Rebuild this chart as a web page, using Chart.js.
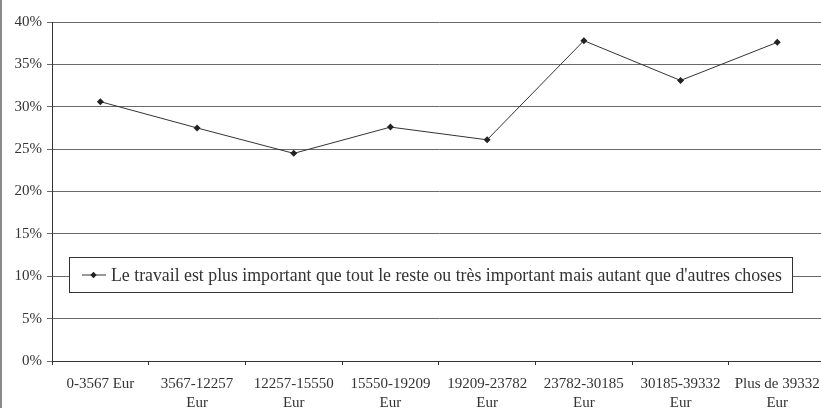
<!DOCTYPE html>
<html>
<head>
<meta charset="utf-8">
<script src="https://cdn.jsdelivr.net/npm/chart.js@4/dist/chart.umd.min.js"></script>
<style>
  html, body { margin: 0; padding: 0; background: #fff; overflow: hidden; }
  #wrap { position: relative; width: 821px; height: 408px; overflow: hidden; }
  #frame { position: absolute; left: 0; top: 0; width: 2px; height: 408px; background: #8a8a8a; z-index: 2; }
  #c { position: absolute; left: 0; top: 0; }
</style>
</head>
<body>
<div id="wrap">
  <canvas id="c" width="830" height="408"></canvas>
  <div id="frame"></div>
</div>
<script>
const categories = [
  "0-3567 Eur",
  ["3567-12257", "Eur"],
  ["12257-15550", "Eur"],
  ["15550-19209", "Eur"],
  ["19209-23782", "Eur"],
  ["23782-30185", "Eur"],
  ["30185-39332", "Eur"],
  ["Plus de 39332", "Eur"]
];
const seriesLabel = "Le travail est plus important que tout le reste ou très important mais autant que d'autres choses";
const seriesValues = [30.6, 27.5, 24.5, 27.6, 26.1, 37.8, 33.1, 37.6];
const yTicks = [0, 5, 10, 15, 20, 25, 30, 35, 40];

const FONT = "'Liberation Serif', 'Times New Roman', serif";
const TXT = "#333";

const legendPlugin = {
  id: 'insideLegend',
  afterDraw(chart) {
    const ctx = chart.ctx;
    const x = 69.5, y = 257.5, w = 723, h = 35;
    ctx.save();
    ctx.fillStyle = '#fff';
    ctx.fillRect(x, y, w, h);
    ctx.strokeStyle = '#333';
    ctx.lineWidth = 1;
    ctx.strokeRect(x, y, w, h);
    const cy = y + h / 2;
    ctx.beginPath();
    ctx.moveTo(82, cy); ctx.lineTo(106, cy);
    ctx.stroke();
    ctx.fillStyle = '#222';
    ctx.beginPath();
    const mx = 93.5, r = 3.2;
    ctx.moveTo(mx, cy - r); ctx.lineTo(mx + r, cy); ctx.lineTo(mx, cy + r); ctx.lineTo(mx - r, cy); ctx.closePath();
    ctx.fill();
    ctx.fillStyle = TXT;
    ctx.font = "17.8px " + FONT;
    ctx.textBaseline = 'middle';
    ctx.textAlign = 'left';
    ctx.fillText(chart.data.datasets[0].label, 111, cy + 1);
    ctx.restore();
  }
};

new Chart(document.getElementById('c'), {
  type: 'line',
  data: {
    labels: categories,
    datasets: [{
      label: seriesLabel,
      data: seriesValues,
      borderColor: '#333',
      borderWidth: 1,
      backgroundColor: '#222',
      pointStyle: 'rectRot',
      pointRadius: 3.5,
      pointBorderWidth: 0,
      pointBackgroundColor: '#222',
      tension: 0,
      fill: false
    }]
  },
  options: {
    responsive: false,
    animation: false,
    events: [],
    layout: { padding: { top: 22, left: 0, right: 2, bottom: 0 } },
    plugins: { legend: { display: false }, tooltip: { enabled: false } },
    scales: {
      x: {
        offset: true,
        grid: { display: true, drawOnChartArea: false, drawTicks: true, tickLength: 4, color: '#333', offset: true },
        border: { display: true, color: '#333', width: 1 },
        ticks: {
          autoSkip: false, maxRotation: 0, minRotation: 0,
          color: TXT, padding: 10,
          font: { family: FONT, size: 15, lineHeight: 1.25 }
        },
        afterFit(scale) { scale.height = 47; }
      },
      y: {
        min: 0, max: 40,
        afterBuildTicks(scale) { scale.ticks = yTicks.map(v => ({ value: v })); },
        grid: { color: '#6a6a6a', lineWidth: 1, drawTicks: true, tickLength: 5 },
        border: { display: true, color: '#333', width: 1 },
        ticks: {
          color: TXT, padding: 5,
          font: { family: FONT, size: 15 },
          callback: v => v + '%'
        },
        afterFit(scale) { scale.width = 52; }
      }
    }
  },
  plugins: [legendPlugin]
});
</script>
</body>
</html>
